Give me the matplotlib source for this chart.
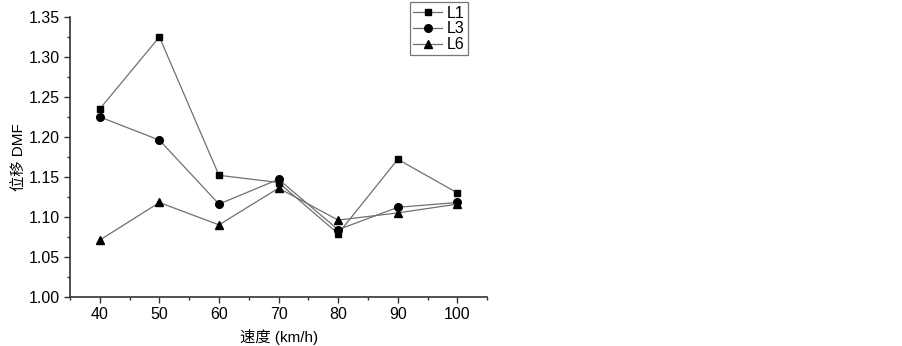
import matplotlib.pyplot as plt
from matplotlib.ticker import MultipleLocator

plt.rcParams['font.family'] = ['Liberation Sans', 'Noto Sans CJK SC']

speed = [40, 50, 60, 70, 80, 90, 100]
l1 = [1.235, 1.325, 1.152, 1.143, 1.079, 1.172, 1.130]
l3 = [1.225, 1.196, 1.116, 1.147, 1.084, 1.112, 1.118]
l6 = [1.071, 1.118, 1.090, 1.136, 1.096, 1.105, 1.116]

fig = plt.figure(figsize=(9.03, 3.46), dpi=100)
ax = fig.add_axes([0.0775, 0.142, 0.462, 0.809])

line_kw = dict(color='#707070', lw=0.9, mfc='black', mec='black')
ax.plot(speed, l1, marker='s', ms=5, label='L1', **line_kw)
ax.plot(speed, l3, marker='o', ms=5.5, label='L3', **line_kw)
ax.plot(speed, l6, marker='^', ms=6, label='L6', **line_kw)

ax.set_xlim(35, 105)
ax.set_ylim(1.0, 1.35)
ax.xaxis.set_major_locator(MultipleLocator(10))
ax.xaxis.set_minor_locator(MultipleLocator(5))
ax.yaxis.set_major_locator(MultipleLocator(0.05))
ax.yaxis.set_minor_locator(MultipleLocator(0.025))
ax.yaxis.set_major_formatter(plt.FormatStrFormatter('%.2f'))

for s in ['top', 'right']:
    ax.spines[s].set_visible(False)
for s in ['left', 'bottom']:
    ax.spines[s].set_color('#333333')
    ax.spines[s].set_linewidth(1.2)
ax.tick_params(which='major', direction='out', length=4, width=1, labelsize=11.5, colors='#333333', labelcolor='black')
ax.tick_params(which='minor', direction='out', length=2.5, width=1, colors='#333333')

ax.set_xlabel('速度 (km/h)', fontsize=11, labelpad=5)
ax.set_ylabel('位移 DMF', fontsize=11, labelpad=2)

leg = fig.legend(loc='upper left', bbox_to_anchor=(0.454, 0.993), fontsize=11.5,
                 frameon=True, fancybox=False, handlelength=1.8, handletextpad=0.3,
                 borderpad=0.2, labelspacing=0.05, borderaxespad=0)
leg.get_frame().set_edgecolor('#555555')
leg.get_frame().set_linewidth(0.9)

fig.savefig('out.png', dpi=100)
